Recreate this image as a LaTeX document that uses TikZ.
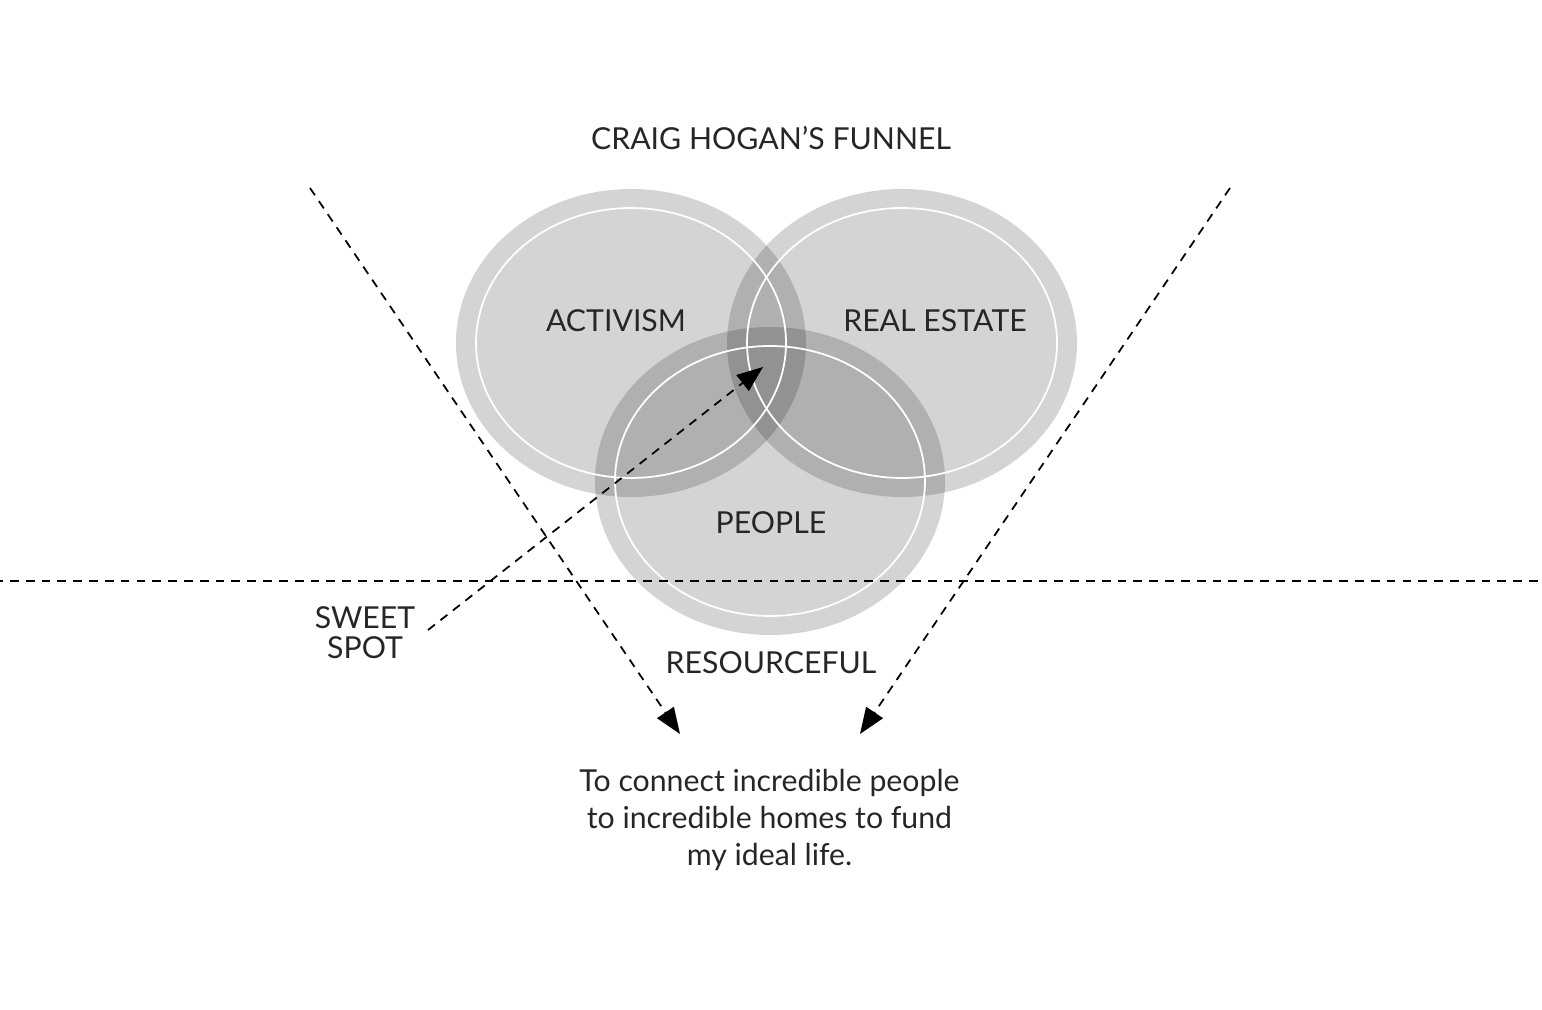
\documentclass[tikz,border=0pt]{standalone}
\usepackage{fontspec}
\setmainfont{Lato}
\usetikzlibrary{arrows.meta}
\begin{document}
\begin{tikzpicture}[x=0.01cm,y=-0.01cm,
  lbl/.style={font=\fontsize{8.6}{10}\selectfont, text=black!85, inner sep=0pt},
  blob/.style={fill=black, fill opacity=0.17},
  rim/.style={draw=white, line width=0.5pt},
  dline/.style={dashed, line width=0.5pt, dash pattern=on 2.5pt off 2pt},
  tip/.style={-{Triangle[length=0.26cm,width=0.2cm]}}]
\useasboundingbox (0,0) rectangle (1542,1010);
\fill[blob] (631,343) ellipse [x radius=175, y radius=154];
\fill[blob] (902,343) ellipse [x radius=175, y radius=154];
\fill[blob] (770,481) ellipse [x radius=175, y radius=154];
\draw[rim] (631,343) ellipse [x radius=155, y radius=135];
\draw[rim] (902,343) ellipse [x radius=155, y radius=135];
\draw[rim] (770,481) ellipse [x radius=155, y radius=135];
\node[lbl] (title) at (771,138) {CRAIG HOGAN’S FUNNEL};
\node[lbl] (act) at (616,321) {ACTIVISM};
\node[lbl] (re) at (935,321) {REAL ESTATE};
\node[lbl] (ppl) at (771,523) {PEOPLE};
\node[lbl] (res) at (771,663) {RESOURCEFUL};
\node[lbl, align=center, font=\fontsize{8.6}{8.6}\selectfont] (sweet) at (365,633) {SWEET\\SPOT};
\node[draw, dline, minimum width=541, minimum height=136, inner sep=0pt] (box) at (769.5,820) {};
\node[lbl, align=center, font=\fontsize{8.6}{10.6}\selectfont] at (box.center) {To connect incredible people\\to incredible homes to fund\\my ideal life.};
\coordinate (lt) at (310,188);
\coordinate (rt) at (1230,188);
\coordinate (la) at (680,734);
\coordinate (ra) at (860,734);
\coordinate (ss) at (763,367);
\draw[dline, tip] (lt) -- (la);
\draw[dline, tip] (rt) -- (ra);
\draw[dline, tip] (428,630) -- (ss);
\end{tikzpicture}
\end{document}
